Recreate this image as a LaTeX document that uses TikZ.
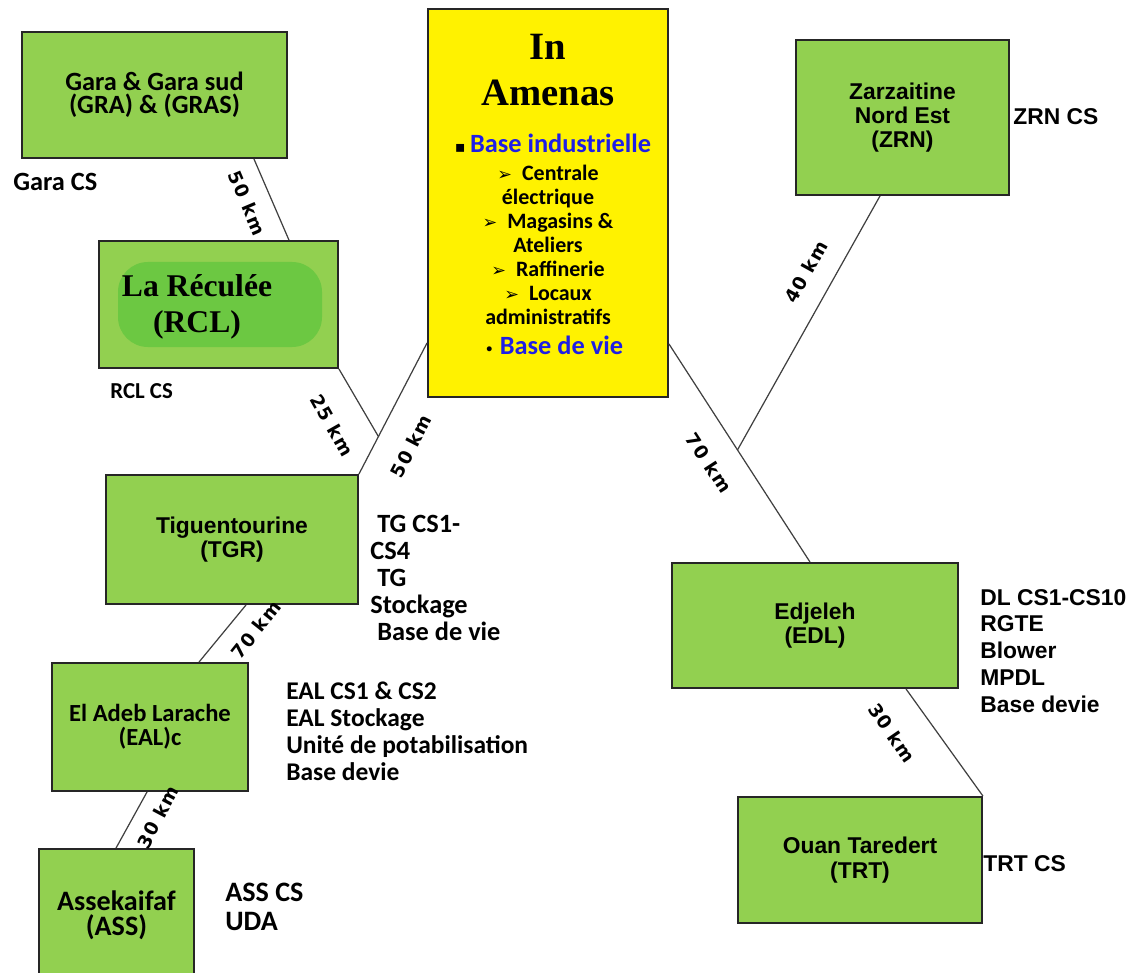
\documentclass[tikz,border=0pt]{standalone}
\usepackage{fontspec}
\setmainfont{Carlito}
\newfontfamily\tahfont{Liberation Sans}
\newfontfamily\serfont{Liberation Serif}
\newfontfamily\dvfont{DejaVu Sans}
\newfontfamily\lblfont{DejaVu Sans}[LetterSpace=7]
\definecolor{boxgreen}{RGB}{146,208,80}
\definecolor{blobgreen}{RGB}{108,200,66}
\definecolor{titleblue}{RGB}{30,30,230}
\newcommand\setfs[2]{\fontsize{#1}{#2}\selectfont}
\begin{document}
\begin{tikzpicture}[x=0.02cm,y=-0.02cm,
  gbox/.style={draw=black!85,line width=1.1pt,fill=boxgreen,inner sep=0pt,align=center},
  ybox/.style={draw=black!85,line width=1.1pt,fill=yellow,inner sep=0pt},
  conn/.style={draw=black!75,line width=0.7pt},
  side/.style={anchor=west,inner sep=0pt,align=left},
  lbl/.style={font=\lblfont\bfseries\setfs{10.5}{10.5},inner sep=0pt},
  plain/.style={inner sep=0pt,align=center}]
\useasboundingbox (0,0) rectangle (1136,973);
\clip (0,0) rectangle (1136,973);

% boxes
\node[gbox,minimum width=5.3cm,minimum height=2.52cm,font=\bfseries\setfs{15}{13}] (gra) at (154.5,95) {Gara \& Gara sud\\(GRA) \& (GRAS)};
\node[gbox,minimum width=4.78cm,minimum height=2.54cm] (rcl) at (218.5,304.5) {};
\fill[blobgreen,rounded corners=0.6cm] (118,262) rectangle (322,347);
\node[plain,font=\serfont\bfseries\setfs{18}{20.4}] (rcltxt) at (197,307) {La Réculée\\(RCL)};

\node[ybox,minimum width=4.8cm,minimum height=7.76cm] (yl) at (548,203) {};
\node[plain,font=\serfont\bfseries\setfs{22}{26.6}] (ttl) at (548,70) {In\\Amenas};
\node[plain,font=\bfseries\setfs{15}{15}] (bi) at (553,143) {{\dvfont\setfs{9}{9}▪}\,\textcolor{titleblue}{Base industrielle}};
\node[plain,font=\bfseries\setfs{12.5}{13.6}] (items) at (548,245) {{\dvfont\setfs{10}{10}➢}\ \ Centrale\\électrique\\{\dvfont\setfs{10}{10}➢}\ \ Magasins \&\\Ateliers\\{\dvfont\setfs{10}{10}➢}\ \ Raffinerie\\{\dvfont\setfs{10}{10}➢}\ \ Locaux\\administratifs};
\node[plain,font=\bfseries\setfs{15}{15}] (bdv) at (554,345) {{\dvfont\setfs{8}{8}•}\ \textcolor{titleblue}{Base de vie}};

\node[gbox,minimum width=4.26cm,minimum height=3.1cm,font=\tahfont\bfseries\setfs{13}{13.6}] (zrn) at (902.5,117.5) {Zarzaitine\\Nord Est\\(ZRN)};
\node[gbox,minimum width=5.04cm,minimum height=2.58cm,font=\tahfont\bfseries\setfs{13}{14}] (tgr) at (232,539.5) {Tiguentourine\\(TGR)};
\node[gbox,minimum width=3.92cm,minimum height=2.56cm,font=\bfseries\setfs{14}{13.6}] (eal) at (150,727) {El Adeb Larache\\(EAL)c};
\node[gbox,minimum width=3.1cm,minimum height=2.64cm,font=\bfseries\setfs{16}{14.2}] (ass) at (116.5,915) {Assekaifaf\\(ASS)};
\node[gbox,minimum width=5.72cm,minimum height=2.5cm,font=\tahfont\bfseries\setfs{13}{13.6}] (edl) at (815,625.5) {Edjeleh\\(EDL)};
\node[gbox,minimum width=4.88cm,minimum height=2.52cm,font=\tahfont\bfseries\setfs{13}{14}] (trt) at (860,860) {Ouan Taredert\\(TRT)};

% side texts
\node[side,font=\bfseries\setfs{15}{15}] (garacs) at (13,182) {Gara CS};
\node[side,font=\bfseries\setfs{13}{13}] (rclcs) at (110,391) {RCL CS};
\node[side,font=\tahfont\bfseries\setfs{13}{13}] (zrncs) at (1013,117) {ZRN CS};
\node[side,font=\bfseries\setfs{15}{15.3}] (tgcs) at (370,578) {\hspace*{4pt}TG CS1-\\CS4\\\hspace*{4pt}TG\\Stockage\\\hspace*{4pt}Base de vie};
\node[side,font=\bfseries\setfs{14.5}{15.3}] (ealcs) at (286,731) {EAL CS1 \& CS2\\EAL Stockage\\Unité de potabilisation\\Base devie};
\node[side,font=\bfseries\setfs{16}{16.4}] (asscs) at (225,907) {ASS CS\\UDA};
\node[side,font=\tahfont\bfseries\setfs{13}{15.3}] (edlcs) at (980,651) {DL CS1-CS10\\RGTE\\Blower\\MPDL\\Base devie};
\node[side,font=\tahfont\bfseries\setfs{13}{13}] (trtcs) at (983,864) {TRT CS};

% connectors
\coordinate (ylw) at ([yshift=1.1cm]yl.south west);
\coordinate (yle) at ([yshift=1.08cm]yl.south east);
\draw[conn] ([xshift=-0.68cm]gra.south east) -- ([xshift=-1.0cm]rcl.north east);
\draw[conn] (ylw) -- (tgr.north east) coordinate[pos=0.714] (j1);
\draw[conn] (rcl.south east) -- (j1);
\draw[conn] (yle) -- ([xshift=-0.1cm]edl.north) coordinate[pos=0.486] (j2);
\draw[conn] ([xshift=-0.45cm]zrn.south) -- (j2);
\draw[conn] ([xshift=2.82cm]tgr.south west) -- ([xshift=2.96cm]eal.north west);
\draw[conn] ([xshift=1.92cm]eal.south west) -- ([xshift=1.56cm]ass.north west);
\draw[conn] ([xshift=4.7cm]edl.south west) -- (trt.north east);

% distance labels
\node[lbl,rotate=-67] (l1) at (247,203) {50 km};
\node[lbl,rotate=-60.5] (l2) at (332,425) {25 km};
\node[lbl,rotate=62.6] (l3) at (411,446) {50 km};
\node[lbl,rotate=61] (l4) at (806,272) {40 km};
\node[lbl,rotate=-57] (l5) at (709,463) {70 km};
\node[lbl,rotate=51.5] (l6) at (256,630) {70 km};
\node[lbl,rotate=62] (l7) at (158,817) {30 km};
\node[lbl,rotate=-55.5] (l8) at (892,733) {30 km};
\end{tikzpicture}
\end{document}
